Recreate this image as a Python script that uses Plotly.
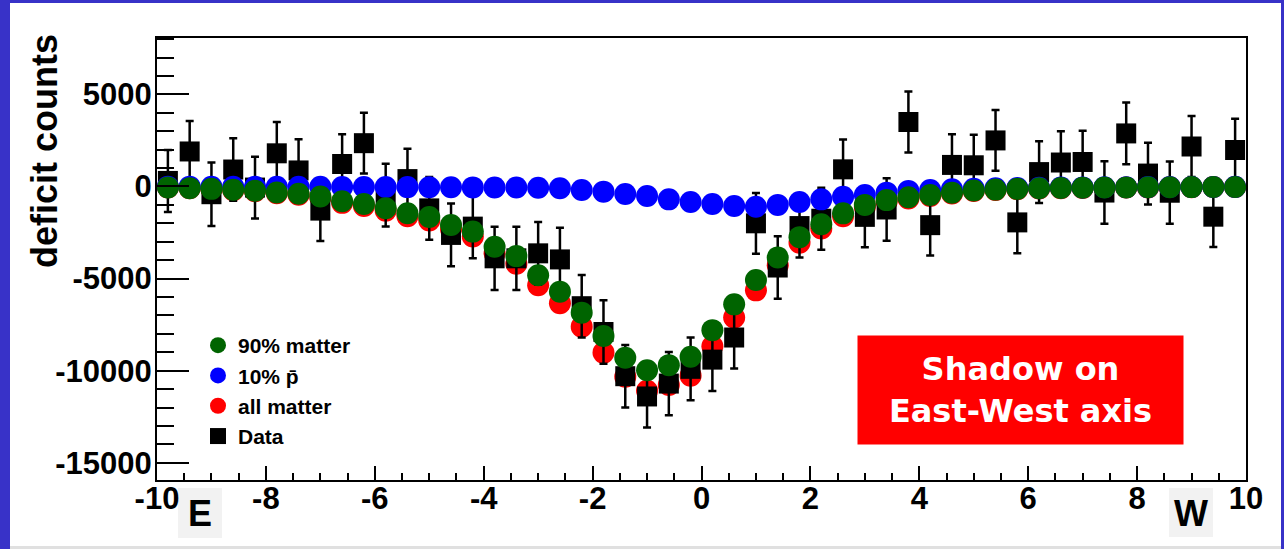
import plotly.graph_objects as go

# bin centres (degrees, East-West)
x_centers = [-9.8, -9.4, -9.0, -8.6, -8.2, -7.8, -7.4, -7.0, -6.6, -6.2,
             -5.8, -5.4, -5.0, -4.6, -4.2, -3.8, -3.4, -3.0, -2.6, -2.2,
             -1.8, -1.4, -1.0, -0.6, -0.2, 0.2, 0.6, 1.0, 1.4, 1.8,
             2.2, 2.6, 3.0, 3.4, 3.8, 4.2, 4.6, 5.0, 5.4, 5.8,
             6.2, 6.6, 7.0, 7.4, 7.8, 8.2, 8.6, 9.0, 9.4, 9.8]

data_counts = [300, 1900, -420, 920, -60, 1800, 870, -1310, 1220, 2350,
               -470, 400, -1190, -2630, -2180, -3900, -3900, -3630, -3960, -6500,
               -7900, -10300, -11400, -10700, -9900, -9400, -8200, -2000, -4400, -2150,
               -1750, 930, -1650, -1250, 3500, -2100, 1170, 1150, 2500, -1950,
               780, 1300, 1330, -330, 2880, 700, -340, 2170, -1640, 1980]

data_errors = [1680, 1650, 1720, 1700, 1680, 1700, 1690, 1650, 1620, 1650,
               1700, 1650, 1700, 1700, 1720, 1720, 1720, 1700, 1720, 1700,
               1720, 1700, 1680, 1720, 1700, 1700, 1680, 1650, 1700, 1700,
               1680, 1620, 1650, 1700, 1650, 1650, 1660, 1660, 1650, 1680,
               1680, 1700, 1700, 1700, 1680, 1680, 1690, 1650, 1650, 1700]

matter90 = [-50, -90, -130, -180, -230, -330, -400, -540, -800, -950,
            -1180, -1450, -1660, -2090, -2450, -3270, -3780, -4820, -5710, -6850,
            -8120, -9300, -9980, -9700, -9240, -7800, -6400, -5080, -3850, -2750,
            -2050, -1460, -1000, -740, -590, -460, -340, -220, -170, -130,
            -100, -80, -70, -60, -50, -45, -40, -35, -30, -30]

pbar10 = [-10, -10, -12, -14, -16, -18, -20, -22, -25, -28,
          -30, -35, -40, -45, -50, -55, -60, -70, -100, -190,
          -280, -410, -515, -700, -840, -950, -1060, -1100, -1000, -840,
          -700, -560, -460, -335, -240, -190, -150, -120, -100, -85,
          -70, -60, -50, -45, -40, -35, -30, -28, -25, -22]

all_matter = [-55, -100, -145, -200, -255, -365, -445, -600, -890, -1055,
              -1310, -1610, -1845, -2320, -2720, -3630, -4200, -5360, -6340, -7610,
              -9020, -10330, -11090, -10780, -10270, -8670, -7110, -5640, -4280, -3060,
              -2280, -1620, -1110, -820, -655, -510, -380, -245, -190, -145,
              -110, -90, -78, -67, -56, -50, -44, -39, -33, -33]

x_tick_vals = [-10, -8, -6, -4, -2, 0, 2, 4, 6, 8, 10]
x_tick_text = ["-10", "-8", "-6", "-4", "-2", "0", "2", "4", "6", "8", "10"]
y_tick_vals = [-15000, -10000, -5000, 0, 5000]
y_tick_text = ["-15000", "-10000", "-5000", "0", "5000"]

W, H = 1284, 549
L, R, T, B = 157, 38, 38, 69
PW, PH = W - L - R, H - T - B


def xp(px):
    return (px - L) / PW


def yp(py):
    return 1 - (py - T) / PH


fig = go.Figure()

fig.add_trace(go.Scatter(x=x_centers, y=all_matter, mode="markers", name="all matter",
                         legendrank=3, legendgroup="c",
                         marker=dict(symbol="circle", size=22, color="#ff0000", line=dict(width=0))))
fig.add_trace(go.Scatter(x=x_centers, y=data_counts, mode="markers", name="Data",
                         legendrank=4, legendgroup="d",
                         error_y=dict(type="data", array=data_errors, visible=True,
                                      color="black", thickness=2.5, width=4),
                         marker=dict(symbol="square", size=20, color="black", line=dict(width=0))))
fig.add_trace(go.Scatter(x=x_centers, y=pbar10, mode="markers", name="10% p\u0304",
                         legendrank=2, legendgroup="b",
                         marker=dict(symbol="circle", size=22, color="#0000ff", line=dict(width=0))))
fig.add_trace(go.Scatter(x=x_centers, y=matter90, mode="markers", name="90% matter",
                         legendrank=1, legendgroup="a",
                         marker=dict(symbol="circle", size=22, color="#006400", line=dict(width=0))))

tick_font = dict(family="Liberation Sans", size=31, color="black", weight="bold")

fig.update_layout(
    width=W, height=H, autosize=False,
    margin=dict(l=L, r=R, t=T, b=B, pad=0),
    paper_bgcolor="white", plot_bgcolor="white",
    showlegend=True,
    legend=dict(x=xp(198), y=yp(325), xanchor="left", yanchor="top",
                bgcolor="rgba(0,0,0,0)", borderwidth=0, tracegroupgap=0,
                font=dict(family="Liberation Sans", size=21, color="black", weight="bold")),
    xaxis=dict(range=[-10, 10], tickmode="array", tickvals=x_tick_vals, ticktext=x_tick_text,
               ticks="inside", ticklen=14, tickwidth=1.5, tickcolor="black",
               minor=dict(tickmode="linear", tick0=0, dtick=0.5, ticks="inside", ticklen=7,
                          tickwidth=1.5, tickcolor="black"),
               showgrid=False, zeroline=False, showline=True, linewidth=2, linecolor="black",
               mirror=True, ticklabelstandoff=-10, tickfont=tick_font),
    yaxis=dict(range=[-15935, 8060], tickmode="array", tickvals=y_tick_vals, ticktext=y_tick_text,
               ticks="inside", ticklen=32, tickwidth=1.5, tickcolor="black",
               minor=dict(tickmode="linear", tick0=0, dtick=1000, ticks="inside", ticklen=17,
                          tickwidth=1.5, tickcolor="black"),
               showgrid=False, zeroline=False, showline=True, linewidth=2, linecolor="black",
               mirror=True, ticklabelstandoff=-3, tickfont=tick_font),
)

shapes = [
    # blue frame of the slide
    dict(type="rect", xref="paper", yref="paper", x0=xp(0), x1=xp(10), y0=yp(549), y1=yp(0),
         fillcolor="#3832c8", line=dict(width=0), layer="above"),
    dict(type="rect", xref="paper", yref="paper", x0=xp(0), x1=xp(1284), y0=yp(3), y1=yp(0),
         fillcolor="#3832c8", line=dict(width=0), layer="above"),
    dict(type="rect", xref="paper", yref="paper", x0=xp(1281), x1=xp(1284), y0=yp(549), y1=yp(0),
         fillcolor="#3832c8", line=dict(width=0), layer="above"),
    dict(type="rect", xref="paper", yref="paper", x0=xp(10), x1=xp(1281), y0=yp(549), y1=yp(546),
         fillcolor="#e0e0e0", line=dict(width=0), layer="above"),
    # E / W label backgrounds
    dict(type="rect", xref="paper", yref="paper", x0=xp(178), x1=xp(222), y0=yp(538), y1=yp(488),
         fillcolor="#f2f2f2", line=dict(width=0), layer="below"),
    dict(type="rect", xref="paper", yref="paper", x0=xp(1169), x1=xp(1213), y0=yp(537), y1=yp(488),
         fillcolor="#f2f2f2", line=dict(width=0), layer="below"),
]
fig.update_layout(shapes=shapes)

fig.add_annotation(x=xp(44), y=yp(151), xref="paper", yref="paper", text="deficit counts",
                   textangle=-90, showarrow=False, xanchor="center", yanchor="middle",
                   font=dict(family="Liberation Sans", size=36, color="black", weight="bold"))
fig.add_annotation(x=xp(200), y=yp(513), xref="paper", yref="paper", text="E",
                   showarrow=False, xanchor="center", yanchor="middle",
                   font=dict(family="Liberation Sans", size=36, color="black", weight="bold"))
fig.add_annotation(x=xp(1191), y=yp(513), xref="paper", yref="paper", text="W",
                   showarrow=False, xanchor="center", yanchor="middle",
                   font=dict(family="Liberation Sans", size=36, color="black", weight="bold"))
fig.add_annotation(x=xp(1020.5), y=yp(390), xref="paper", yref="paper",
                   text="Shadow on<br>East-West axis", showarrow=False,
                   xanchor="center", yanchor="middle", width=325, height=108, borderpad=0,
                   bgcolor="#ff0000", align="center",
                   font=dict(family="DejaVu Sans", size=32, color="white", weight="bold"))

fig.write_html("out.html")
